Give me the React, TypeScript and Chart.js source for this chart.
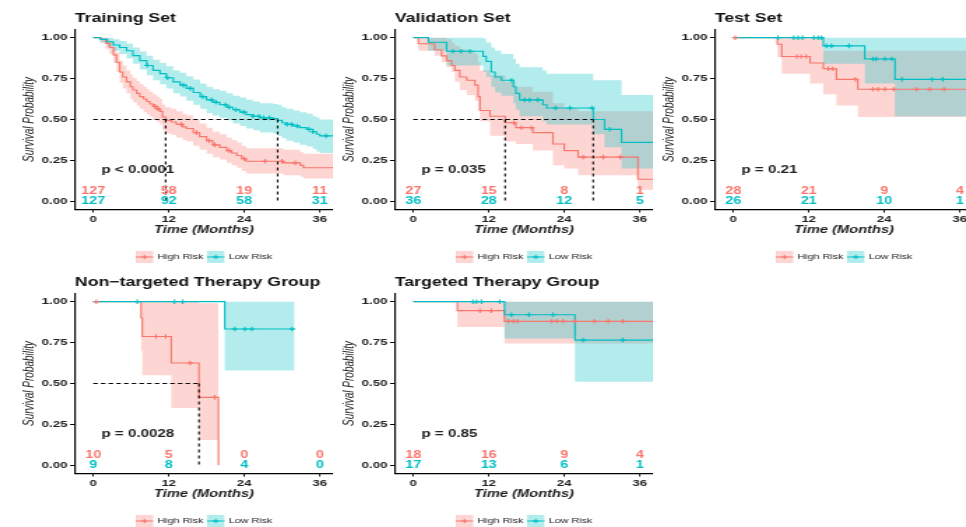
import React, { useEffect, useRef } from 'react';
import { Chart, registerables } from 'chart.js';

Chart.register(...registerables);

const FONT = '"Liberation Sans", Arial, Helvetica, sans-serif';
const RED = '#F8766D';
const TEAL = '#00BFC4';
const RED_FILL = 'rgba(248,118,109,0.3)';
const TEAL_FILL = 'rgba(0,191,196,0.3)';
const TEXT = '#222';

// ---- shared axis / label data ----
const xTicks = [0, 12, 24, 36];
const yTicks = [0, 0.25, 0.5, 0.75, 1];
const riskTimes = [0, 12, 24, 36];
const legendLabels = ['High Risk', 'Low Risk'];
const xLabel = 'Time (Months)';
const yLabel = 'Survival Probability';

// ---- Training set ----
const trainTitle = 'Training Set';
const trainP = 'p < 0.0001';
const trainHighT = [0, 1.2, 2.0, 2.6, 3.2, 3.7, 4.2, 4.7, 5.3, 5.9, 6.3, 6.9, 7.4, 8.0, 8.5, 9.0, 9.5, 10.1, 10.6, 11.0, 11.5, 12.4, 13.2, 14.2, 14.8, 15.9, 16.9, 18.0, 19.0, 20.1, 21.2, 22.0, 22.8, 23.6, 24.3, 30.2, 32.9, 33.4, 38.1];
const trainHighS = [1, 0.99, 0.965, 0.94, 0.895, 0.85, 0.79, 0.76, 0.73, 0.70, 0.68, 0.66, 0.64, 0.625, 0.61, 0.595, 0.58, 0.565, 0.55, 0.515, 0.495, 0.485, 0.47, 0.455, 0.445, 0.42, 0.395, 0.37, 0.345, 0.33, 0.31, 0.295, 0.28, 0.26, 0.245, 0.235, 0.22, 0.205, 0.205];
const trainHighLo = [1, 0.97, 0.93, 0.90, 0.845, 0.79, 0.725, 0.69, 0.66, 0.625, 0.605, 0.585, 0.565, 0.545, 0.53, 0.515, 0.50, 0.485, 0.47, 0.435, 0.415, 0.405, 0.39, 0.375, 0.365, 0.34, 0.315, 0.29, 0.27, 0.255, 0.235, 0.22, 0.205, 0.185, 0.17, 0.16, 0.15, 0.14, 0.14];
const trainHighHi = [1, 1, 0.995, 0.98, 0.945, 0.91, 0.86, 0.83, 0.80, 0.775, 0.755, 0.735, 0.715, 0.70, 0.685, 0.67, 0.655, 0.64, 0.625, 0.59, 0.575, 0.565, 0.55, 0.535, 0.525, 0.50, 0.475, 0.45, 0.425, 0.41, 0.39, 0.375, 0.36, 0.34, 0.325, 0.315, 0.30, 0.29, 0.29];
const trainHighCens = [9.8, 10.3, 14.0, 16.4, 18.4, 19.3, 21.6, 24.0, 27.3, 30.0, 32.1];
const trainHighRisk = [127, 58, 19, 11];
const trainLowT = [0, 1.1, 2.2, 3.2, 4.2, 5.3, 6.3, 7.4, 8.5, 9.5, 10.6, 11.6, 12.7, 13.8, 14.8, 15.9, 17.0, 18.0, 19.0, 20.1, 21.2, 22.2, 23.3, 24.3, 25.4, 26.5, 28.6, 29.3, 30.0, 30.7, 31.8, 32.8, 33.9, 34.9, 35.5, 36.0, 38.1];
const trainLowS = [1, 0.99, 0.975, 0.955, 0.94, 0.92, 0.89, 0.86, 0.83, 0.80, 0.78, 0.755, 0.73, 0.71, 0.69, 0.665, 0.64, 0.62, 0.605, 0.59, 0.575, 0.56, 0.545, 0.53, 0.52, 0.51, 0.505, 0.495, 0.48, 0.47, 0.46, 0.45, 0.44, 0.425, 0.41, 0.40, 0.40];
const trainLowLo = [1, 0.97, 0.945, 0.92, 0.90, 0.875, 0.84, 0.805, 0.77, 0.74, 0.715, 0.69, 0.66, 0.64, 0.615, 0.59, 0.565, 0.54, 0.525, 0.51, 0.495, 0.475, 0.46, 0.445, 0.435, 0.42, 0.415, 0.40, 0.385, 0.37, 0.36, 0.345, 0.335, 0.32, 0.305, 0.295, 0.295];
const trainLowHi = [1, 1, 1, 0.99, 0.98, 0.965, 0.94, 0.915, 0.89, 0.865, 0.845, 0.825, 0.80, 0.785, 0.765, 0.745, 0.72, 0.70, 0.685, 0.675, 0.66, 0.645, 0.635, 0.62, 0.61, 0.60, 0.595, 0.59, 0.575, 0.565, 0.555, 0.545, 0.535, 0.52, 0.51, 0.50, 0.50];
const trainLowCens = [8.6, 11.8, 14.3, 15.4, 17.4, 18.8, 19.5, 21.0, 21.6, 22.7, 23.9, 25.4, 26.3, 27.1, 28.0, 30.8, 31.5, 32.4, 34.3, 34.9, 37.0];
const trainLowRisk = [127, 92, 58, 31];

// ---- Validation set ----
const valTitle = 'Validation Set';
const valP = 'p = 0.035';
const valHighT = [0, 0.8, 3.4, 4.5, 5.3, 6.1, 6.6, 7.4, 8.5, 9.8, 10.3, 10.6, 12.2, 14.6, 16.3, 19.0, 22.2, 24.0, 26.2, 35.7, 38.1];
const valHighS = [1, 0.963, 0.926, 0.889, 0.86, 0.83, 0.80, 0.76, 0.74, 0.71, 0.64, 0.555, 0.52, 0.48, 0.45, 0.42, 0.35, 0.31, 0.27, 0.135, 0.135];
const valHighLo = [1, 0.92, 0.89, 0.85, 0.82, 0.79, 0.73, 0.68, 0.65, 0.615, 0.555, 0.49, 0.40, 0.365, 0.35, 0.31, 0.22, 0.20, 0.16, 0.07, 0.07];
const valHighHi = [1, 1, 1, 1, 0.99, 0.97, 0.95, 0.93, 0.92, 0.90, 0.85, 0.80, 0.77, 0.73, 0.70, 0.67, 0.60, 0.57, 0.55, 0.55, 0.55];
const valHighCens = [16.0, 17.2, 18.8, 27.0, 30.2, 32.9];
const valHighRisk = [27, 15, 8, 1];
const valLowT = [0, 2.4, 5.3, 11.1, 11.6, 12.4, 13.0, 14.0, 15.9, 16.3, 16.9, 20.6, 21.2, 28.6, 30.4, 33.1, 38.1];
const valLowS = [1, 0.972, 0.917, 0.886, 0.855, 0.79, 0.76, 0.74, 0.70, 0.66, 0.62, 0.59, 0.57, 0.50, 0.44, 0.36, 0.36];
const valLowLo = [1, 0.92, 0.83, 0.79, 0.76, 0.70, 0.665, 0.645, 0.60, 0.56, 0.52, 0.49, 0.47, 0.41, 0.33, 0.20, 0.20];
const valLowHi = [1, 1, 1, 0.995, 0.97, 0.94, 0.92, 0.90, 0.87, 0.84, 0.82, 0.80, 0.78, 0.74, 0.74, 0.65, 0.65];
const valLowCens = [6.3, 7.6, 9.0, 15.6, 17.7, 18.5, 19.8, 22.6, 24.9, 28.4, 31.2];
const valLowRisk = [36, 28, 12, 5];

// ---- Test set ----
const testTitle = 'Test Set';
const testP = 'p = 0.21';
const testHighT = [0, 7.0, 7.7, 12.2, 14.3, 16.4, 19.8, 38.1];
const testHighS = [1, 0.96, 0.885, 0.845, 0.81, 0.745, 0.685, 0.685];
const testHighLo = [1, 0.88, 0.78, 0.72, 0.655, 0.585, 0.515, 0.515];
const testHighHi = [1, 1, 1, 1, 0.92, 0.92, 0.92, 0.92];
const testHighCens = [0.3, 10.1, 10.8, 11.6, 15.1, 15.8, 19.4, 22.2, 23.0, 24.1, 25.5, 29.1, 31.2, 33.5];
const testHighRisk = [28, 21, 9, 4];
const testLowT = [0, 14.3, 20.9, 25.7, 38.1];
const testLowS = [1, 0.95, 0.87, 0.745, 0.745];
const testLowLo = [1, 0.84, 0.72, 0.52, 0.52];
const testLowHi = [1, 1, 1, 1, 1];
const testLowCens = [7.1, 9.6, 10.3, 11.0, 12.8, 13.5, 14.0, 14.8, 15.6, 18.4, 22.2, 22.7, 24.1, 25.2, 26.8, 31.6, 33.3];
const testLowRisk = [26, 21, 10, 1];

// ---- Non-targeted therapy group ----
const nonTitle = 'Non\u2212targeted Therapy Group';
const nonP = 'p = 0.0028';
const nonHighT = [0, 7.6, 7.8, 12.4, 16.8, 19.9];
const nonHighS = [1, 0.9, 0.7875, 0.625, 0.415, 0];
const nonHighLo = [1, 0.70, 0.55, 0.35, 0.155, 0.155];
const nonHighHi = [1, 1, 1, 1, 0.99, 0.99];
const nonHighCens = [0.5, 10.0, 11.5, 15.4, 19.3];
const nonHighRisk = [10, 5, 0, 0];
const nonLowT = [0, 20.9, 32.0];
const nonLowS = [1, 0.833, 0.833];
const nonLowLo = [1, 0.58, 0.58];
const nonLowHi = [1, 1, 1];
const nonLowCens = [7.0, 12.9, 14.2, 22.5, 24.1, 25.2, 31.6];
const nonLowRisk = [9, 8, 4, 0];

// ---- Targeted therapy group ----
const tgtTitle = 'Targeted Therapy Group';
const tgtP = 'p = 0.85';
const tgtHighT = [0, 7.0, 14.5, 38.1];
const tgtHighS = [1, 0.945, 0.88, 0.88];
const tgtHighLo = [1, 0.845, 0.745, 0.745];
const tgtHighHi = [1, 1, 1, 1];
const tgtHighCens = [10.6, 12.4, 15.1, 15.9, 16.6, 22.0, 22.8, 23.8, 25.7, 28.8, 31.0, 33.3];
const tgtHighRisk = [18, 16, 9, 4];
const tgtLowT = [0, 14.5, 25.7, 38.1];
const tgtLowS = [1, 0.92, 0.765, 0.765];
const tgtLowLo = [1, 0.775, 0.51, 0.51];
const tgtLowHi = [1, 1, 1, 1];
const tgtLowCens = [9.5, 10.05, 10.85, 13.75, 15.6, 18.4, 22.2, 27.0, 33.3];
const tgtLowRisk = [17, 13, 6, 1];

// ---- geometry ----
const K = 1.4; // horizontal stretch of the canvas
const IW = 238; // internal canvas width
const PH = 264; // panel height
const COL_STEP = 320;
const ROW_STEP = 264;
const X_MIN = -2.9;
const X_MAX = 38.1;
const Y_MIN = -0.05;
const Y_MAX = 1.05;
const PVAL_X = 1.3;
const PVAL_Y = 0.19;
const RISK_Y_HIGH = 0.06;
const RISK_Y_LOW = 0.0;

type Group = { t: number[]; s: number[]; lo: number[]; hi: number[]; cens: number[]; risk: number[] };
type Panel = { title: string; p: string; col: number; row: number; high: Group; low: Group };

const g = (t, s, lo, hi, cens, risk): Group => ({ t, s, lo, hi, cens, risk });

const panels: Panel[] = [
  { title: trainTitle, p: trainP, col: 0, row: 0,
    high: g(trainHighT, trainHighS, trainHighLo, trainHighHi, trainHighCens, trainHighRisk),
    low: g(trainLowT, trainLowS, trainLowLo, trainLowHi, trainLowCens, trainLowRisk) },
  { title: valTitle, p: valP, col: 1, row: 0,
    high: g(valHighT, valHighS, valHighLo, valHighHi, valHighCens, valHighRisk),
    low: g(valLowT, valLowS, valLowLo, valLowHi, valLowCens, valLowRisk) },
  { title: testTitle, p: testP, col: 2, row: 0,
    high: g(testHighT, testHighS, testHighLo, testHighHi, testHighCens, testHighRisk),
    low: g(testLowT, testLowS, testLowLo, testLowHi, testLowCens, testLowRisk) },
  { title: nonTitle, p: nonP, col: 0, row: 1,
    high: g(nonHighT, nonHighS, nonHighLo, nonHighHi, nonHighCens, nonHighRisk),
    low: g(nonLowT, nonLowS, nonLowLo, nonLowHi, nonLowCens, nonLowRisk) },
  { title: tgtTitle, p: tgtP, col: 1, row: 1,
    high: g(tgtHighT, tgtHighS, tgtHighLo, tgtHighHi, tgtHighCens, tgtHighRisk),
    low: g(tgtLowT, tgtLowS, tgtLowLo, tgtLowHi, tgtLowCens, tgtLowRisk) },
];

const pts = (t: number[], v: number[]) => t.map((ti, i) => ({ x: ti, y: v[i] }));
const survAt = (gr: Group, time: number) => {
  let v = gr.s[0];
  for (let i = 0; i < gr.t.length; i++) if (gr.t[i] <= time) v = gr.s[i];
  return v;
};
const medianOf = (gr: Group) => {
  for (let i = 0; i < gr.t.length; i++) if (gr.s[i] <= 0.5) return gr.t[i];
  return null;
};

function drawCross(ctx, cx, cy, r) {
  ctx.beginPath();
  ctx.moveTo(cx - r, cy); ctx.lineTo(cx + r, cy);
  ctx.moveTo(cx, cy - r); ctx.lineTo(cx, cy + r);
  ctx.stroke();
}

function overlay(p: Panel) {
  return {
    id: 'kmOverlay',
    afterDatasetsDraw(chart) {
      const { ctx, chartArea, scales } = chart;
      const x = scales.x, y = scales.y;
      ctx.save();
      // title
      ctx.fillStyle = '#111';
      ctx.font = `bold 12.6px ${FONT}`;
      ctx.textAlign = 'left';
      ctx.textBaseline = 'alphabetic';
      ctx.fillText(p.title, chartArea.left, 22);
      // p value
      ctx.fillStyle = TEXT;
      ctx.font = `bold 10.8px ${FONT}`;
      ctx.textBaseline = 'middle';
      ctx.fillText(p.p, x.getPixelForValue(PVAL_X), y.getPixelForValue(PVAL_Y));
      // numbers at risk
      ctx.font = `bold 10.3px ${FONT}`;
      ctx.textAlign = 'center';
      riskTimes.forEach((rt, i) => {
        ctx.fillStyle = RED;
        ctx.fillText(String(p.high.risk[i]), x.getPixelForValue(rt), y.getPixelForValue(RISK_Y_HIGH));
        ctx.fillStyle = TEAL;
        ctx.fillText(String(p.low.risk[i]), x.getPixelForValue(rt), y.getPixelForValue(RISK_Y_LOW));
      });
      // legend
      const keyW = 12.5, keyH = 12, gapKT = 3, gapItem = 2.5, ly = 257;
      ctx.font = `7.7px ${FONT}`;
      ctx.textAlign = 'left';
      const w0 = ctx.measureText(legendLabels[0]).width;
      const w1 = ctx.measureText(legendLabels[1]).width;
      const total = keyW * 2 + gapKT * 2 + w0 + gapItem + w1;
      let lx = (chartArea.left + chartArea.right) / 2 - total / 2;
      const items = [
        { label: legendLabels[0], color: RED, fill: RED_FILL, w: w0 },
        { label: legendLabels[1], color: TEAL, fill: TEAL_FILL, w: w1 },
      ];
      items.forEach((it) => {
        ctx.fillStyle = it.fill;
        ctx.fillRect(lx, ly - keyH / 2, keyW, keyH);
        ctx.strokeStyle = it.color;
        ctx.lineWidth = 1;
        ctx.beginPath();
        ctx.moveTo(lx, ly); ctx.lineTo(lx + keyW, ly);
        ctx.stroke();
        drawCross(ctx, lx + keyW / 2, ly, 2.2);
        ctx.fillStyle = TEXT;
        ctx.fillText(it.label, lx + keyW + gapKT, ly);
        lx += keyW + gapKT + it.w + gapItem;
      });
      ctx.restore();
    },
  };
}

function buildConfig(p: Panel) {
  const bandDs = (gr: Group, fillColor: string, order: number) => [
    { data: pts(gr.t, gr.hi), stepped: 'before', borderWidth: 0, borderColor: 'transparent', pointRadius: 0, fill: false, order },
    { data: pts(gr.t, gr.lo), stepped: 'before', borderWidth: 0, borderColor: 'transparent', pointRadius: 0, fill: '-1', backgroundColor: fillColor, order },
  ];
  const lineDs = (gr: Group, color: string, order: number) => ({
    data: pts(gr.t, gr.s), stepped: 'before', borderColor: color, borderWidth: 1.15, pointRadius: 0, fill: false, order,
  });
  const censDs = (gr: Group, color: string, order: number) => ({
    data: gr.cens.map((ct) => ({ x: ct, y: survAt(gr, ct) })),
    showLine: false, pointStyle: 'cross', pointRadius: 2.3, pointBorderColor: color, pointBorderWidth: 1.1,
    pointBackgroundColor: color, borderColor: color, fill: false, order,
  });
  const datasets: any[] = [
    ...bandDs(p.high, RED_FILL, 11),
    ...bandDs(p.low, TEAL_FILL, 10),
    lineDs(p.high, RED, 6),
    lineDs(p.low, TEAL, 5),
    censDs(p.high, RED, 4),
    censDs(p.low, TEAL, 3),
  ];
  const meds = [medianOf(p.high), medianOf(p.low)].filter((m) => m !== null) as number[];
  if (meds.length) {
    const mMax = Math.max(...meds);
    datasets.push({ data: [{ x: 0, y: 0.5 }, { x: mMax, y: 0.5 }], borderColor: '#000', borderWidth: 1, borderDash: [3.2, 2.3], pointRadius: 0, fill: false, order: 1 });
    meds.forEach((m) => {
      datasets.push({ data: [{ x: m, y: 0.5 }, { x: m, y: 0 }], borderColor: '#000', borderWidth: 1.1, borderDash: [3, 3], pointRadius: 0, fill: false, order: 1 });
    });
  }
  const tickFont = { family: FONT, size: 9.4, weight: 'bold' as const };
  return {
    type: 'line' as const,
    data: { datasets },
    options: {
      animation: false,
      responsive: false,
      devicePixelRatio: 1,
      events: [],
      layout: { autoPadding: false, padding: { left: 10, right: 0, top: 29.5, bottom: 24.5 } },
      plugins: { legend: { display: false }, title: { display: false }, tooltip: { enabled: false } },
      scales: {
        x: {
          type: 'linear', min: X_MIN, max: X_MAX,
          afterBuildTicks: (s) => { s.ticks = xTicks.map((v) => ({ value: v })); },
          afterFit: (s) => { s.height = 30; s.paddingLeft = 0; s.paddingRight = 0; },
          ticks: { font: tickFont, color: TEXT, padding: 1.5, maxRotation: 0, autoSkip: false, callback: (v) => String(v) },
          grid: { display: true, drawOnChartArea: false, drawTicks: true, tickLength: 3, color: '#000', lineWidth: 1 },
          border: { display: true, color: '#000', width: 1.2 },
          title: { display: true, text: xLabel, font: { family: FONT, size: 10.5, style: 'italic' as const, weight: 'bold' as const }, color: TEXT, padding: { top: 0, bottom: 2.7 } },
        },
        y: {
          type: 'linear', min: Y_MIN, max: Y_MAX,
          afterBuildTicks: (s) => { s.ticks = yTicks.map((v) => ({ value: v })); },
          afterFit: (s) => { s.width = 43.6; s.paddingTop = 0; s.paddingBottom = 0; },
          ticks: { font: tickFont, color: TEXT, padding: 2, autoSkip: false, callback: (v) => Number(v).toFixed(2) },
          grid: { display: true, drawOnChartArea: false, drawTicks: true, tickLength: 3.5, color: '#000', lineWidth: 1 },
          border: { display: true, color: '#000', width: 1.2 },
          title: { display: true, text: yLabel, font: { family: FONT, size: 10, style: 'italic' as const }, color: TEXT, padding: { top: 5.4, bottom: 0 } },
        },
      },
    },
    plugins: [overlay(p)],
  };
}

function KMPanel({ p }: { p: Panel }) {
  const ref = useRef<HTMLCanvasElement>(null);
  useEffect(() => {
    if (!ref.current) return;
    const chart = new Chart(ref.current, buildConfig(p) as any);
    return () => chart.destroy();
  }, [p]);
  return (
    <canvas
      ref={ref}
      width={IW}
      height={PH}
      style={{ position: 'absolute', left: p.col * COL_STEP, top: p.row * ROW_STEP, width: IW * K, height: PH }}
    />
  );
}

export default function App() {
  return (
    <div style={{ position: 'absolute', left: 0, top: 0, width: 966, height: 527, overflow: 'hidden', background: '#fff' }}>
      {panels.map((p, i) => (
        <KMPanel key={i} p={p} />
      ))}
    </div>
  );
}
